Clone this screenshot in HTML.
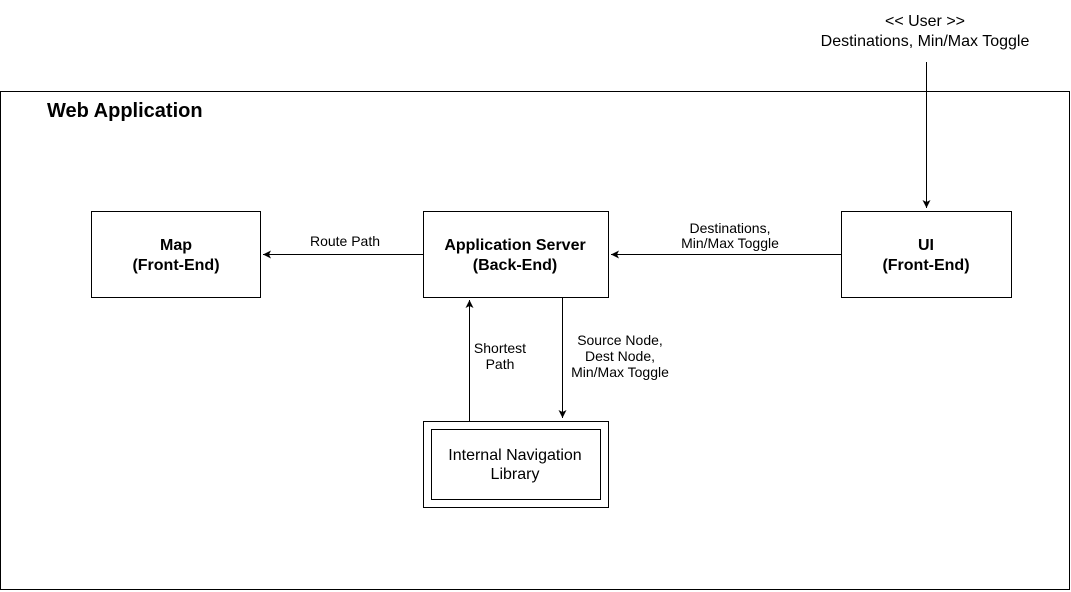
<!DOCTYPE html>
<html><head><style>body{margin:0;background:#fff}svg{display:block}text{font-family:"Liberation Sans",Arial,sans-serif;fill:#000}</style></head><body>
<svg width="1071" height="592" viewBox="0 0 1071 592" xmlns="http://www.w3.org/2000/svg">
<defs><marker id="a" markerWidth="10" markerHeight="10" refX="8" refY="4" orient="auto" markerUnits="userSpaceOnUse"><path d="M0,0 L8,4 L0,8 L2,4 Z" fill="#000"/></marker></defs>
<g fill="none" stroke="#000" stroke-width="1">
<rect x="0.5" y="91.5" width="1069" height="498"/>
<rect x="91.5" y="211.5" width="169" height="86"/>
<rect x="423.5" y="211.5" width="185" height="86"/>
<rect x="841.5" y="211.5" width="170" height="86"/>
<rect x="423.5" y="421.5" width="185" height="86"/>
<rect x="431.5" y="429.5" width="169" height="70"/>
<line x1="423" y1="254.5" x2="263" y2="254.5" marker-end="url(#a)"/>
<line x1="841" y1="254.5" x2="611" y2="254.5" marker-end="url(#a)"/>
<line x1="926.5" y1="62" x2="926.5" y2="208" marker-end="url(#a)"/>
<line x1="469.5" y1="421" x2="469.5" y2="300" marker-end="url(#a)"/>
<line x1="562.5" y1="298" x2="562.5" y2="418" marker-end="url(#a)"/>
</g>
<text x="47" y="117" font-size="20" font-weight="bold">Web Application</text>
<text x="925" y="26" font-size="16" text-anchor="middle">&lt;&lt; User &gt;&gt;</text>
<text x="925" y="46" font-size="16" text-anchor="middle">Destinations, Min/Max Toggle</text>
<g font-size="16" font-weight="bold" text-anchor="middle">
<text x="176" y="250">Map</text><text x="176" y="270">(Front-End)</text>
<text x="515" y="250">Application Server</text><text x="515" y="270">(Back-End)</text>
<text x="926" y="250">UI</text><text x="926" y="270">(Front-End)</text>
</g>
<g font-size="16" text-anchor="middle">
<text x="515" y="460">Internal Navigation</text><text x="515" y="479">Library</text>
</g>
<g font-size="14" text-anchor="middle">
<text x="345" y="246">Route Path</text>
<text x="730" y="233">Destinations,</text><text x="730" y="248">Min/Max Toggle</text>
<text x="500" y="353">Shortest</text><text x="500" y="369">Path</text>
<text x="620" y="345">Source Node,</text><text x="620" y="361">Dest Node,</text><text x="620" y="377">Min/Max Toggle</text>
</g>
</svg>
</body></html>
